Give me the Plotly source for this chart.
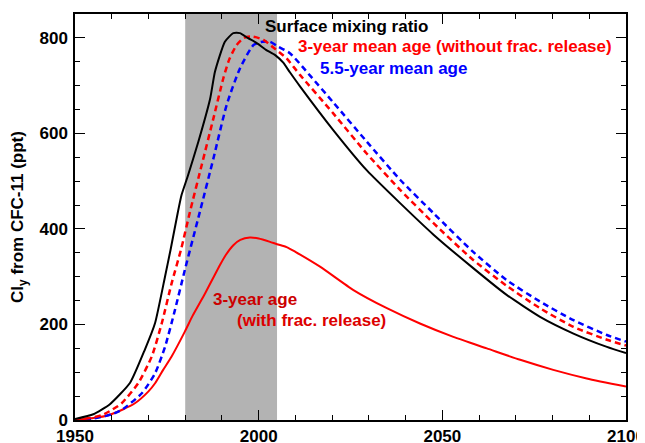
import plotly.graph_objects as go

# Surface mixing ratio (black)
surf_year = [1950, 1955, 1959.5, 1965, 1969, 1971.8, 1974.5, 1976, 1978, 1979, 1980.8, 1983.6,
             1986.8, 1988.1, 1990.8, 1993.1, 1994.9, 1997, 1999.5, 2002, 2004.5, 2006.7, 2008.5,
             2011.3, 2020.3, 2029.4, 2038.5, 2047.6, 2058.4, 2067.5, 2076.6,
             2085.7, 2094.8, 2100]
surf_val = [2, 12, 33, 78, 147, 203, 300, 356, 435, 471, 513, 583,
            673, 729, 792, 810, 810, 800, 789, 775, 764, 748, 728,
            698, 607, 523, 454, 388, 318, 262, 216,
            181, 153, 140]

# 3-year mean age, without fractional release (red dashed)
m3_year = [1950, 1954, 1957.3, 1960, 1962.7, 1967.2, 1970.9, 1973.6, 1976.3, 1978.9, 1981.3,
           1984.5, 1987.7, 1990.4, 1992, 1994, 1996, 1998.1, 2001.3, 2004, 2007.6, 2011.3,
           2020.3, 2029.4, 2038.5, 2047.6, 2058.4, 2067.5, 2076.6, 2085.7, 2094.8, 2100]
m3_val = [0, 4, 10, 21, 35, 77, 133, 202, 286, 358, 436,
          534, 632, 716, 755, 785, 800, 803, 796, 780, 757, 722,
          642, 558, 482, 412, 335, 281, 234, 195, 168, 156]

# 5.5-year mean age (blue dashed)
m55_year = [1950, 1955, 1960, 1962.7, 1968.2, 1971.8, 1974.5, 1977.2, 1979.9, 1984, 1987.7,
            1991.3, 1994.9, 1998.6, 2001, 2003.1, 2005, 2008.5, 2014, 2020.3, 2029.4, 2038.5,
            2047.6, 2058.4, 2067.5, 2076.6, 2085.7, 2094.8, 2100]
m55_val = [0, 3, 12, 21, 56, 98, 153, 230, 314, 436, 548,
           660, 736, 785, 792, 792, 783, 768, 721, 665, 583, 503,
           433, 352, 293, 248, 209, 178, 164]

# 3-year age with fractional release (red solid)
fr_year = [1950, 1955, 1959.1, 1963, 1966.3, 1970, 1971.8, 1974, 1976.3, 1979.9, 1982,
           1985.4, 1988, 1989.5, 1991, 1993.1, 1995, 1997.6, 2000, 2003.1, 2005, 2007.6, 2010,
           2016.7, 2025.8, 2034.9, 2043.9, 2053, 2062.1, 2071.2, 2080.2, 2089.3, 2100]
fr_val = [0, 4, 10, 22, 35, 60, 77, 105, 133, 185, 218,
          265, 303, 325, 345, 366, 377, 382, 380, 373, 368, 362, 352,
          321, 272, 234, 202, 174, 150, 126, 105, 87, 70]

shade_start, shade_end = 1980, 2005
x_ticks = [1950, 2000, 2050, 2100]
y_ticks = [0, 200, 400, 600, 800]

fig = go.Figure()
fig.add_shape(type="rect", xref="x", yref="paper", x0=shade_start, x1=shade_end, y0=0, y1=1,
              fillcolor="#b3b3b3", line=dict(width=0), layer="below")

fig.add_trace(go.Scatter(x=fr_year, y=fr_val, mode="lines",
                         line=dict(color="#ff0000", width=2, shape="spline", smoothing=0.6)))
fig.add_trace(go.Scatter(x=m55_year, y=m55_val, mode="lines",
                         line=dict(color="#0000ff", width=2.5, dash="6px,4px", shape="spline", smoothing=0.6)))
fig.add_trace(go.Scatter(x=m3_year, y=m3_val, mode="lines",
                         line=dict(color="#ff0000", width=2.5, dash="6px,4px", shape="spline", smoothing=0.6)))
fig.add_trace(go.Scatter(x=surf_year, y=surf_val, mode="lines",
                         line=dict(color="#000000", width=2, shape="spline", smoothing=0.5)))

font_b = dict(family="Liberation Sans, Arial, sans-serif", size=17, color="black", weight="bold")

def ann(x, y, text, color):
    return dict(x=x, y=y, xref="x", yref="y", text=text, showarrow=False,
                xanchor="left", yanchor="middle",
                font=dict(family="Liberation Sans, Arial, sans-serif", size=17, color=color, weight="bold"))

fig.update_layout(
    width=637, height=435,
    margin=dict(l=67, r=19, t=6, b=23),
    paper_bgcolor="white", plot_bgcolor="white",
    showlegend=False,
    annotations=[
        ann(2001.2, 823, "Surface mixing ratio", "black"),
        ann(2010.2, 782, "3-year mean age (without frac. release)", "#ff0000"),
        ann(2016.2, 736, "5.5-year mean age", "#0000ff"),
        ann(1986.9, 253, "3-year age", "#cc0000"),
        ann(1993.6, 209, "(with frac. release)", "#dd0000"),
    ],
    xaxis=dict(range=[1950, 2100], tickvals=x_ticks, ticks="inside", ticklen=10, tickwidth=1.2,
               tickcolor="black", showline=True, linecolor="black", linewidth=1.5, mirror="allticks",
               showgrid=False, zeroline=False, tickfont=font_b, automargin=False,
               minor=dict(ticks="inside", dtick=10, ticklen=5, tickwidth=1, tickcolor="black", showgrid=False)),
    yaxis=dict(range=[0, 850], tickvals=y_ticks, ticks="inside", ticklen=10, tickwidth=1.2,
               tickcolor="black", showline=True, linecolor="black", linewidth=1.5, mirror="allticks",
               showgrid=False, zeroline=False, tickfont=font_b, automargin=False, ticklabelstandoff=2,
               title=dict(text="Cl<sub>y</sub> from CFC-11 (ppt)", font=font_b, standoff=12),
               minor=dict(ticks="inside", dtick=50, ticklen=5, tickwidth=1, tickcolor="black", showgrid=False)),
)

fig.write_html("out.html")
